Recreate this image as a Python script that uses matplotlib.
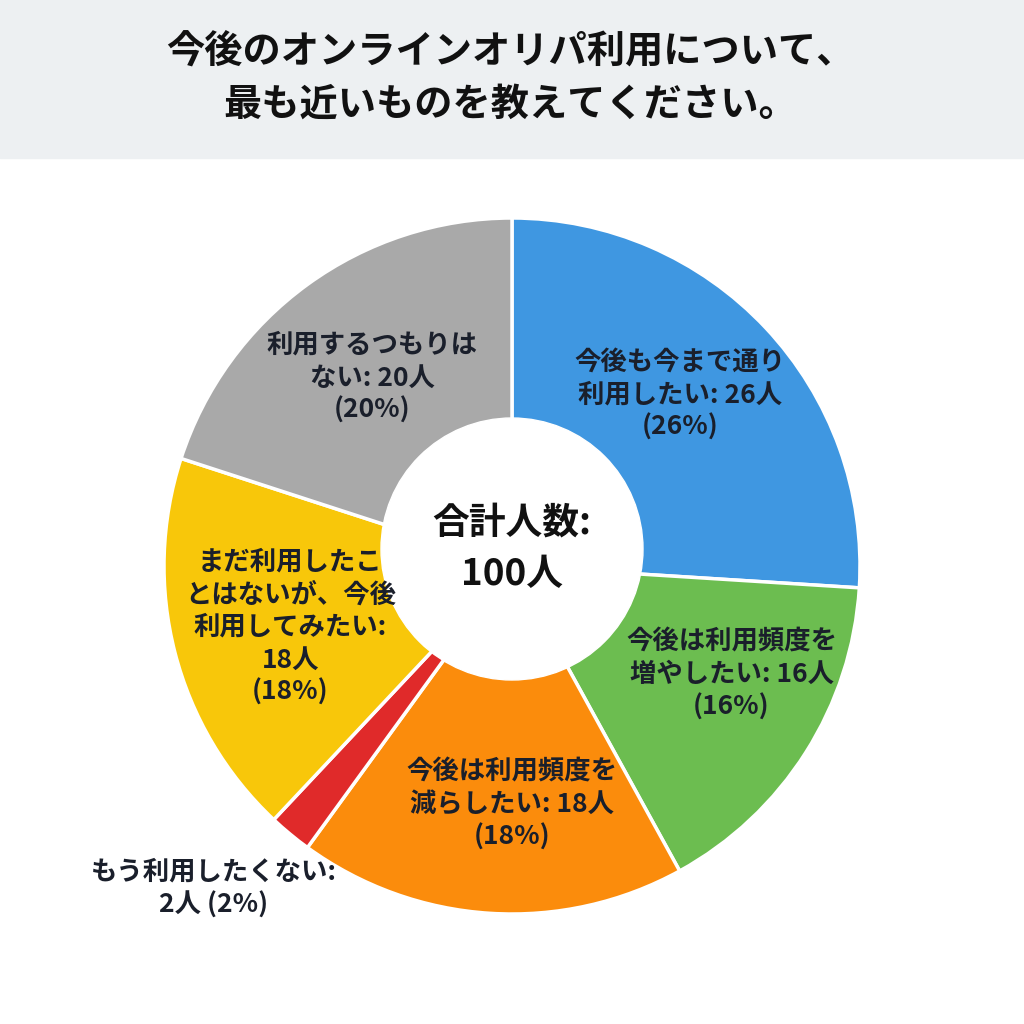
import numpy as np
import matplotlib
matplotlib.use("Agg")
import matplotlib.pyplot as plt
from matplotlib.patches import Rectangle, Circle

plt.rcParams['font.family'] = ['Noto Sans CJK JP', 'DejaVu Sans']

title = "今後のオンラインオリパ利用について、\n最も近いものを教えてください。"
labels = ["今後も今まで通り\n利用したい", "今後は利用頻度を\n増やしたい", "今後は利用頻度を\n減らしたい",
          "もう利用したくない", "まだ利用したこ\nとはないが、今後\n利用してみたい", "利用するつもりは\nない"]
counts = [26, 16, 18, 2, 18, 20]
colors = ["#3f97e1", "#6cbd50", "#fb8c0c", "#e02a2a", "#f8c70a", "#a9a9a9"]
total = sum(counts)

W = 1024
fig = plt.figure(figsize=(10.24, 10.24), dpi=100)
ax = fig.add_axes([0, 0, 1, 1])

# title band
ax.add_patch(Rectangle((0, W - 158), W, 158, color="#edf0f2", zorder=0))
ax.text(510, W - 78, title, ha='center', va='center', fontsize=27.5, fontweight='bold',
        linespacing=1.45, color="#111111")

cx, cy, R = 512, W - 566, 348
wedges, _ = ax.pie(counts, colors=colors, startangle=90, counterclock=False,
                   center=(cx, cy), radius=R, frame=True,
                   wedgeprops=dict(edgecolor='white', linewidth=2.5))
# donut hole
hx, hy = 512, W - 549
ax.add_patch(Circle((hx, hy), 131, color='white', zorder=5))

ax.set_xlim(0, W)
ax.set_ylim(0, W)
ax.set_aspect('equal')
ax.axis('off')

# per-slice label tweaks: (radius, angle offset deg), measured from hole center
tweaks = [(228, -0.7), (253, 2.6), (256, 3.6), (452, -1.7), (235, 5.1), (221, 3.3)]
for i, w in enumerate(wedges):
    mid = np.deg2rad((w.theta1 + w.theta2) / 2 + tweaks[i][1])
    r = tweaks[i][0]
    x, y = hx + r * np.cos(mid), hy + r * np.sin(mid)
    pct = round(counts[i] / total * 100)
    if i == 3:
        s = f"{labels[i]}:\n{counts[i]}人 ({pct}%)"
    elif i == 4:
        s = f"{labels[i]}:\n{counts[i]}人\n({pct}%)"
    else:
        s = f"{labels[i]}: {counts[i]}人\n({pct}%)"
    ax.text(x, y, s, ha='center', va='center', fontsize=19, fontweight='bold',
            linespacing=1.26, color="#1a1f2b", zorder=6)

ax.text(hx, hy, f"合計人数:\n{total}人", ha='center', va='center', fontsize=26.5,
        fontweight='bold', linespacing=1.5, color="#111111", zorder=6)

fig.savefig("out.png", dpi=100, facecolor='white')
